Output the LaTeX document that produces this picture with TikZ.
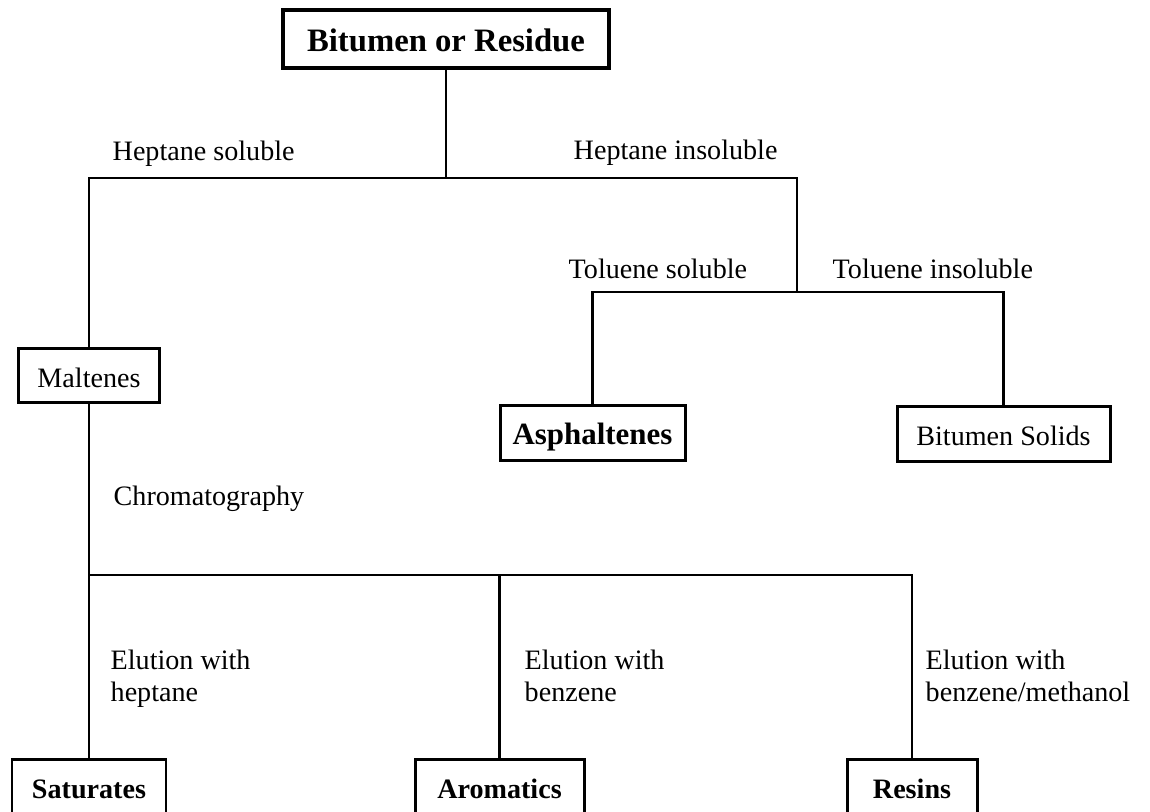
\documentclass[tikz,border=0pt]{standalone}
\usepackage{fontspec}
\setmainfont{Liberation Serif}
\usepackage{tikz}
\usetikzlibrary{positioning,calc}

\newcommand{\txtsz}{\fontsize{8}{9.1}\selectfont}
\newcommand{\titlesz}{\fontsize{9.3}{11}\selectfont}

\tikzset{
  box/.style={draw, line width=0.85pt, inner sep=0pt, minimum height=0.55cm,
    text height=1.5ex, text depth=0pt, font=\txtsz},
  lbl/.style={inner sep=0pt, font=\txtsz, align=left},
  link/.style={line width=0.6pt}
}

\begin{document}
\begin{tikzpicture}
    \useasboundingbox (0,0) rectangle (11.5,-8.11);

    % Feed
    \node[box, line width=0.95pt, minimum width=3.26cm, minimum height=0.58cm, font=\titlesz\bfseries] (feed) at (4.46,-0.39) {Bitumen or Residue};

    % First split
    \node[box, minimum width=1.41cm, minimum height=0.54cm] (malt) at (0.89,-3.75) {Maltenes};
    \node[box, minimum width=1.85cm, font=\fontsize{8.8}{10}\selectfont\bfseries] (asph) at (5.925,-4.325) {Asphaltenes};
    \node[box, minimum width=2.13cm] (bsol) at (10.035,-4.335) {Bitumen Solids};

    % Fractions
    \node[box, minimum width=1.54cm, font=\txtsz\bfseries] (sat) at (0.89,-7.865) {Saturates};
    \node[box, minimum width=1.69cm, font=\txtsz\bfseries] (arom) at (4.995,-7.865) {Aromatics};
    \node[box, minimum width=1.30cm, font=\txtsz\bfseries] (res) at (9.12,-7.865) {Resins};

    % Junctions
    \coordinate (hept) at (4.46,-1.78);
    \coordinate (tol) at (7.97,-2.92);
    \coordinate (chrom) at (0.89,-5.75);

    % Connectors
    \draw[link] (feed.south) -- (hept);
    \draw[link] (malt.north) |- (hept) -| (tol);
    \draw[link] (asph.north) |- (tol) -| (bsol.north);
    \draw[link] (malt.south) -- (chrom);
    \draw[link] (sat.north) |- (chrom) -| (res.north);
    \draw[link] (arom.north) -- (arom.north |- chrom);

    % Labels
    \node[lbl, anchor=base west] (hsol) at (1.12,-1.60) {Heptane soluble};
    \node[lbl, anchor=base west] (hins) at (5.73,-1.59) {Heptane insoluble};
    \node[lbl, anchor=base west] (tsol) at (5.68,-2.78) {Toluene soluble};
    \node[lbl, anchor=base west] (tins) at (8.32,-2.78) {Toluene insoluble};
    \node[lbl, anchor=base west] (chromlbl) at (1.13,-5.05) {Chromatography};
    \node[lbl, anchor=north west] (elhep) at (1.10,-6.49) {Elution with\\heptane};
    \node[lbl, anchor=north west] (elben) at (5.24,-6.49) {Elution with\\benzene};
    \node[lbl, anchor=north west] (elmeth) at (9.25,-6.49) {Elution with\\benzene/methanol};
\end{tikzpicture}
\end{document}
